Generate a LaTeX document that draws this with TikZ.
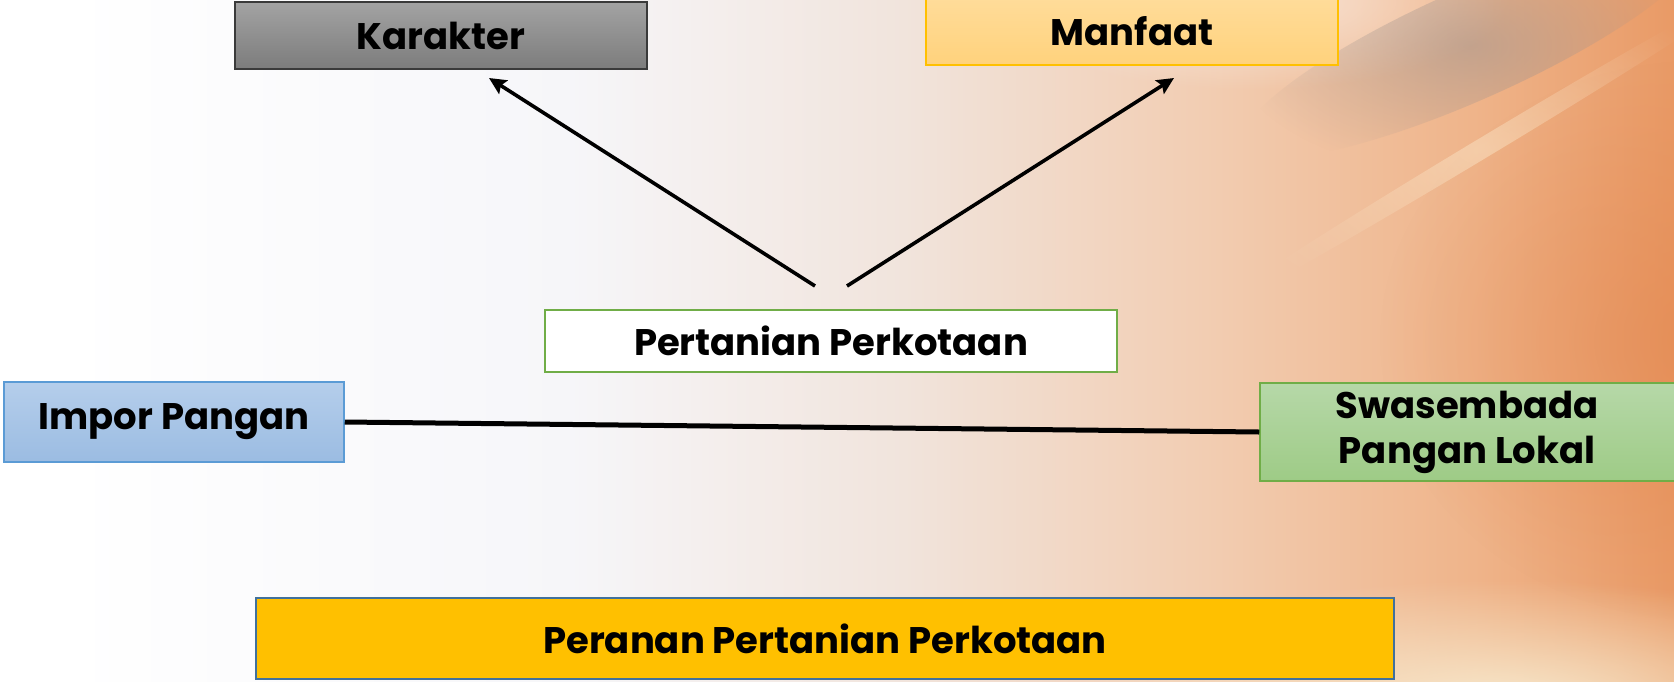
\documentclass[tikz,border=0pt]{standalone}
\usepackage{fontspec}
\setmainfont{Poppins}
\usetikzlibrary{arrows.meta,calc,fadings}
\definecolor{bgA}{HTML}{F6F6F9}
\definecolor{bgB}{HTML}{F1E4DC}
\definecolor{bgC}{HTML}{F2CDB2}
\definecolor{bgD}{HTML}{EFB48A}
\definecolor{bgE}{HTML}{E99A66}
\definecolor{cream}{HTML}{F8EDD2}
\definecolor{streak}{HTML}{A0948F}
\definecolor{deep}{HTML}{E2834A}
\definecolor{lite}{HTML}{FBE6C8}
\definecolor{karT}{HTML}{A3A3A3}
\definecolor{karB}{HTML}{7C7C7C}
\definecolor{karD}{HTML}{3A3A3A}
\definecolor{manT}{HTML}{FFDC9A}
\definecolor{manB}{HTML}{FFD27C}
\definecolor{manD}{HTML}{FFC000}
\definecolor{grnD}{HTML}{70AD47}
\definecolor{grnT}{HTML}{B6D8A8}
\definecolor{grnB}{HTML}{9ECB86}
\definecolor{bluT}{HTML}{B5CEEB}
\definecolor{bluB}{HTML}{9BBCE2}
\definecolor{bluD}{HTML}{5B9BD5}
\definecolor{perF}{HTML}{FFC000}
\definecolor{perD}{HTML}{41719C}
\pgfdeclarehorizontalshading{bgshade}{100bp}{color(0bp)=(white); color(27bp)=(white); color(42bp)=(bgA); color(52bp)=(bgB); color(61bp)=(bgC); color(69bp)=(bgD); color(75bp)=(bgE); color(100bp)=(bgE)}
\tikzfading[name=softfade, inner color=transparent!0, outer color=transparent!100]
\tikzset{
  lbl/.style={font=\fontsize{37}{45}\selectfont\bfseries, text=black, align=center, inner sep=0pt},
  boxbase/.style={lbl, rectangle, line width=1.5pt},
  karbox/.style={boxbase, top color=karT, bottom color=karB, draw=karD},
  manbox/.style={boxbase, top color=manT, bottom color=manB, draw=manD},
  pertbox/.style={boxbase, fill=white, draw=grnD, line width=2pt},
  impbox/.style={boxbase, top color=bluT, bottom color=bluB, draw=bluD},
  swabox/.style={boxbase, top color=grnT, bottom color=grnB, draw=grnD},
  peranbox/.style={boxbase, fill=perF, draw=perD, line width=2.2pt},
  arr/.style={line width=3.6pt, -{Stealth[length=17pt,width=16pt,inset=3pt]}},
  link/.style={line width=5pt}
}
\begin{document}
\begin{tikzpicture}[x=1pt,y=-1pt]
\useasboundingbox (0,0) rectangle (1674,681);
\clip (0,0) rectangle (1674,681);
% background
\shade[shading=bgshade] (0,0) rectangle (1674,681);
\fill[deep, opacity=0.5, path fading=softfade] (1700,340) ellipse [x radius=320, y radius=280];
\fill[cream, opacity=0.9, path fading=softfade] (1500,700) ellipse [x radius=440, y radius=120];
\fill[white, opacity=0.6, path fading=softfade] (1250,0) ellipse [x radius=260, y radius=90];
\fill[streak, opacity=0.55, path fading=softfade, rotate around={24:(1470,45)}] (1470,45) ellipse [x radius=250, y radius=55];
\fill[lite, opacity=0.5, path fading=softfade, rotate around={31:(1480,150)}] (1480,150) ellipse [x radius=320, y radius=10];
% nodes
\node[karbox, minimum width=412pt, minimum height=67pt] (kar) at (441,35.5) {Karakter};
\node[manbox, minimum width=412pt, minimum height=68pt] (man) at (1132,31) {Manfaat};
\node[pertbox, minimum width=572pt, minimum height=62pt] (pert) at (831,341) {Pertanian Perkotaan};
\node[impbox, minimum width=340pt, minimum height=80pt] (imp) at (174,422) {Impor Pangan};
\node[swabox, minimum width=420pt, minimum height=98pt] (swa) at (1470,432) {\hspace*{-6pt}Swasembada\\\hspace*{-6pt}Pangan Lokal};
\node[peranbox, minimum width=1138pt, minimum height=81pt] (peran) at (825,638.5) {Peranan Pertanian Perkotaan};
% connectors
\coordinate (s1) at (815,286);
\coordinate (e1) at (489,78);
\coordinate (s2) at (847,286);
\coordinate (e2) at (1174,78);
\draw[arr] (s1) -- (e1);
\draw[arr] (s2) -- (e2);
\draw[link] (imp.east) -- (swa.west);
\end{tikzpicture}
\end{document}
